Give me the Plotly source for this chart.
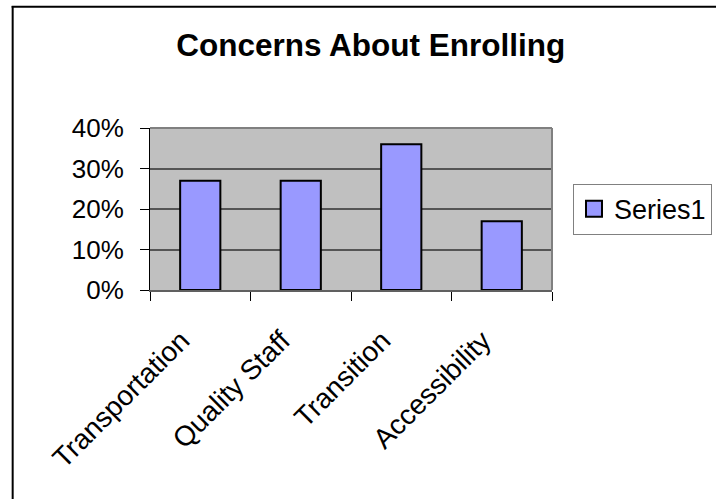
import plotly.graph_objects as go

categories = ["Transportation", "Quality Staff", "Transition", "Accessibility"]
values = [0.27, 0.27, 0.36, 0.17]
series_name = "Series1"
title_text = "Concerns About Enrolling"

W, H = 716, 499
L, R, T, B = 149.5, 552.0, 127.5, 290.0

def px_x(p):
    return (p - L) / (R - L)

def px_y(p):
    return (B - p) / (B - T)

bar_color = "#9999FF"

fig = go.Figure()
fig.add_trace(go.Bar(
    x=categories, y=values, name=series_name,
    marker=dict(color=bar_color, line=dict(color="black", width=2)),
    showlegend=False,
))
# legend-only entry with a larger square swatch
fig.add_trace(go.Scatter(
    x=[None], y=[None], name=series_name, mode="markers",
    marker=dict(symbol="square", size=16, color=bar_color, line=dict(color="black", width=2)),
    showlegend=True, hoverinfo="skip",
))

font_family = "Liberation Sans, Arial, sans-serif"

fig.update_layout(
    width=W, height=H,
    margin=dict(l=L, r=W - R, t=T, b=H - B, autoexpand=False),
    paper_bgcolor="white",
    plot_bgcolor="#C0C0C0",
    bargap=0.6,
    font=dict(family=font_family, color="black", size=26),
    title=dict(text="<b>" + title_text + "</b>", x=px_x(370.5), xref="paper", xanchor="center",
               y=1 - 45 / H, yref="container", yanchor="middle",
               font=dict(size=31.5, family=font_family, color="black")),
    showlegend=True,
    legend=dict(x=px_x(573), xanchor="left", y=px_y(209), yanchor="middle",
                bordercolor="#808080", borderwidth=1, bgcolor="white",
                font=dict(size=27, family=font_family, color="black"),
                itemwidth=30, tracegroupgap=0),
    xaxis=dict(
        type="category", tickson="boundaries", ticks="outside", ticklen=9, tickcolor="black",
        tickangle=-45, showline=True, linecolor="#606060", linewidth=2, mirror=False,
        showgrid=False, tickfont=dict(size=28), ticklabelstandoff=21, ticklabelshift=-19,
    ),
    yaxis=dict(
        range=[0, 0.4], dtick=0.1, tickformat=".0%", ticks="outside", ticklen=9,
        tickcolor="black", showline=True, linecolor="black", linewidth=1,
        showgrid=True, gridcolor="#555555", gridwidth=1.5, zeroline=False,
        tickfont=dict(size=26), ticklabelstandoff=11,
    ),
    shapes=[
        dict(type="line", xref="paper", yref="paper", x0=0, x1=1, y0=1, y1=1,
             line=dict(color="#808080", width=2)),
        dict(type="line", xref="paper", yref="paper", x0=1, x1=1, y0=0, y1=1,
             line=dict(color="#808080", width=2)),
        dict(type="line", xref="paper", yref="paper", x0=px_x(12), x1=px_x(12),
             y0=px_y(5), y1=px_y(H + 5), line=dict(color="black", width=2)),
        dict(type="line", xref="paper", yref="paper", x0=px_x(11), x1=px_x(W + 5),
             y0=px_y(6), y1=px_y(6), line=dict(color="black", width=2)),
    ],
)

fig.write_html("out.html", config={"displayModeBar": False},
               post_script="document.body.style.margin='0';document.body.style.overflow='hidden';")
